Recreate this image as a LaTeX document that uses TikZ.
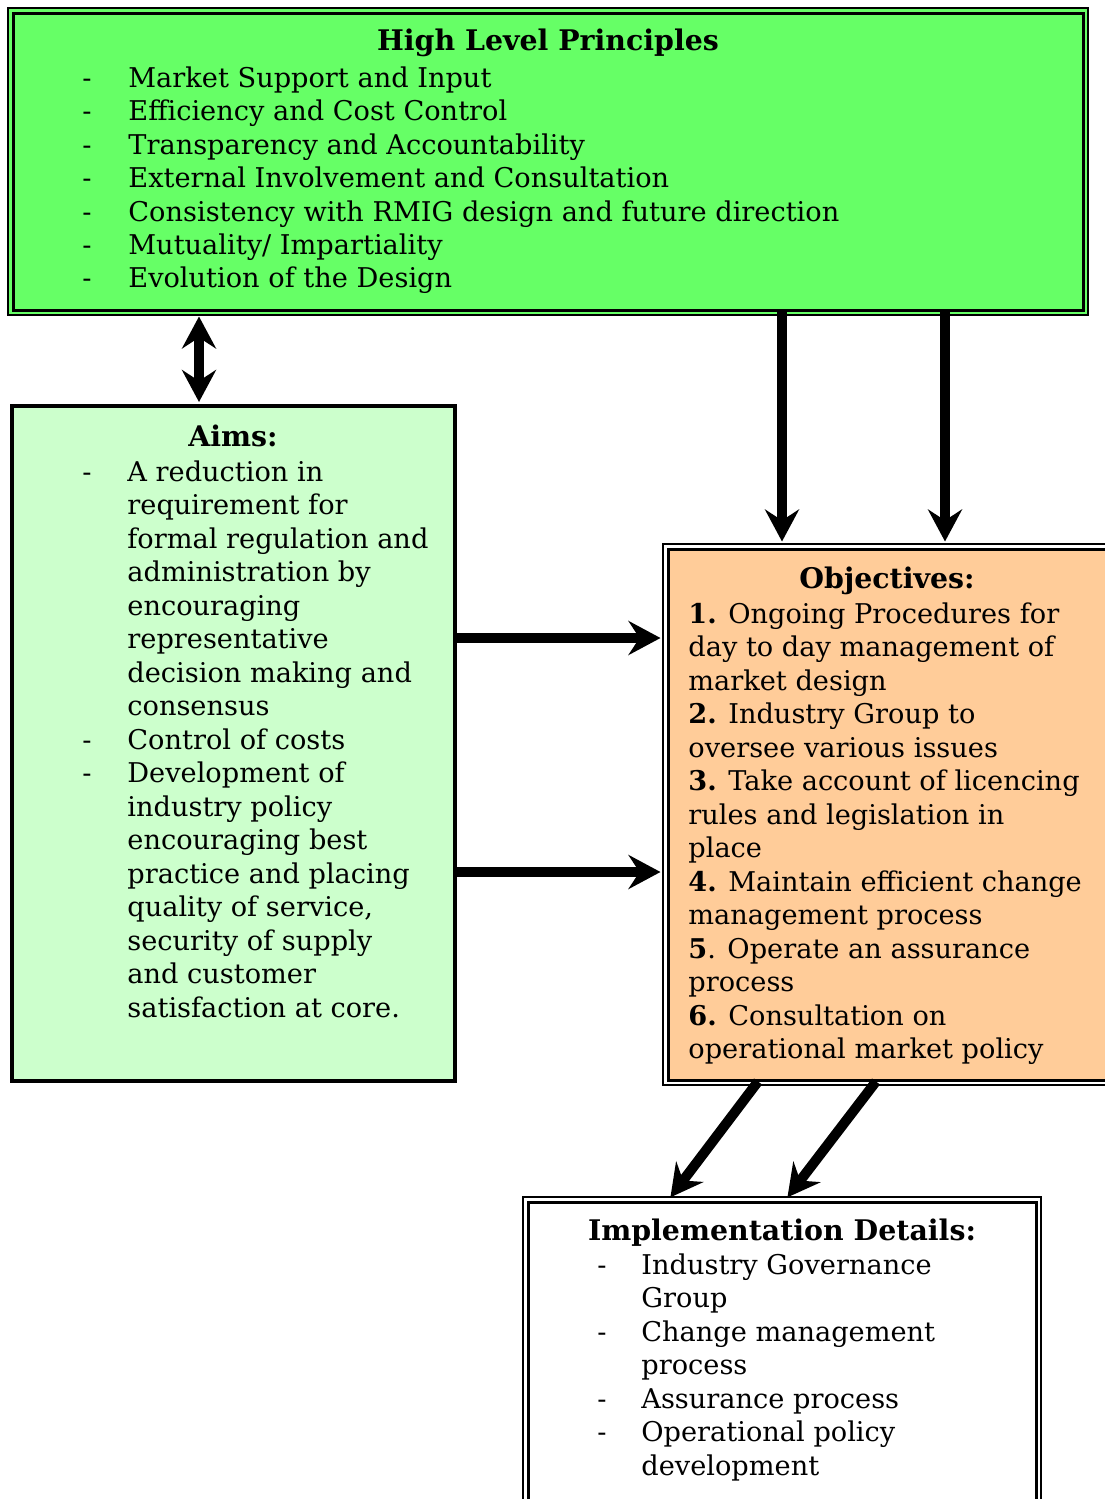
\documentclass[tikz,border=0pt]{standalone}
\usepackage{fontspec}
\setmainfont{DejaVu Serif}
\usetikzlibrary{arrows.meta}
\definecolor{prinGreen}{HTML}{66FF66}
\definecolor{aimsGreen}{HTML}{CCFFCC}
\definecolor{objOrange}{HTML}{FFCC99}
\newcommand{\boxfont}{\fontsize{13.6}{16.75}\selectfont}
\newcommand{\headfont}{\fontsize{14.2}{16.75}\selectfont\bfseries}
\tikzset{framed/.style={draw,line width=1.5pt,
    preaction={draw=black,line width=6pt},
    preaction={draw=#1,line width=4pt}},
  framed/.default=white}

\begin{document}
\begin{tikzpicture}[x=0.5pt,y=-0.5pt,font=\boxfont,
    >={Stealth[length=16pt,width=17pt,inset=5.5pt]}]
  \tikzstyle{panel}=[inner sep=0pt,anchor=center]
  \tikzstyle{title}=[font=\headfont,anchor=base,inner sep=0pt]
  \tikzstyle{items}=[anchor=base west,inner sep=0pt,align=left]
  \tikzstyle{fat}=[line width=5pt]

  \useasboundingbox (0,0) rectangle (1104,1499);

  % boxes
  \node[panel,framed=prinGreen,fill=prinGreen,minimum width=535pt,minimum height=148.5pt] (prin) at (548,161.5) {};
  \node[panel,draw,line width=2pt,fill=aimsGreen,minimum width=221.5pt,minimum height=337.5pt] (aims) at (233.5,743.5) {};
  \node[panel,framed,fill=objOrange,minimum width=223.5pt,minimum height=265.5pt] (obj) at (891.5,814.5) {};
  \node[panel,framed,fill=white,minimum width=254pt,minimum height=159pt] (impl) at (782,1361) {};

  % texts
  \node[title] (prinT) at (548,50) {High Level Principles};
  \node[items] (prinL) at (82,87) {\begin{tabular}[t]{@{}p{23pt}@{}l@{}}
    - & Market Support and Input\\
    - & Efficiency and Cost Control\\
    - & Transparency and Accountability\\
    - & External Involvement and Consultation\\
    - & Consistency with RMIG design and future direction\\
    - & Mutuality/ Impartiality\\
    - & Evolution of the Design
  \end{tabular}};

  \node[title] (aimsT) at (233,446) {Aims:};
  \node[items] (aimsL) at (82,481) {\begin{tabular}[t]{@{}p{22.5pt}@{}l@{}}
    - & A reduction in\\
      & requirement for\\
      & formal regulation and\\
      & administration by\\
      & encouraging\\
      & representative\\
      & decision making and\\
      & consensus\\
    - & Control of costs\\
    - & Development of\\
      & industry policy\\
      & encouraging best\\
      & practice and placing\\
      & quality of service,\\
      & security of supply\\
      & and customer\\
      & satisfaction at core.
  \end{tabular}};

  \node[title] (objT) at (887,588) {Objectives:};
  \node[items] (objL) at (688,623) {\begin{tabular}[t]{@{}l@{}}
    \textbf{1.} Ongoing Procedures for\\
    day to day management of\\
    market design\\
    \textbf{2.} Industry Group to\\
    oversee various issues\\
    \textbf{3.} Take account of licencing\\
    rules and legislation in\\
    place\\
    \textbf{4.} Maintain efficient change\\
    management process\\
    \textbf{5}. Operate an assurance\\
    process\\
    \textbf{6.} Consultation on\\
    operational market policy
  \end{tabular}};

  \node[title] (implT) at (782,1240) {Implementation Details:};
  \node[items] (implL) at (597,1274) {\begin{tabular}[t]{@{}p{22pt}@{}l@{}}
    - & Industry Governance\\
      & Group\\
    - & Change management\\
      & process\\
    - & Assurance process\\
    - & Operational policy\\
      & development
  \end{tabular}};

  % connectors
  \coordinate (c1) at (782,0);
  \coordinate (c2) at (945,0);
  \coordinate (c3) at (199,0);
  \coordinate (r1) at (0,638);
  \coordinate (r2) at (0,872);
  \coordinate (d1) at (758,0);
  \coordinate (d2) at (668,0);
  \coordinate (d3) at (876,0);
  \coordinate (d4) at (785,0);

  \draw[fat,<->,shorten <=2.5pt,shorten >=1pt] (prin.south -| c3) -- (aims.north -| c3);
  \draw[fat,->,shorten >=3pt] (prin.south -| c1) -- (obj.north -| c1);
  \draw[fat,->,shorten >=3pt] (prin.south -| c2) -- (obj.north -| c2);
  \draw[fat,->,shorten >=3pt] (aims.east |- r1) -- (obj.west |- r1);
  \draw[fat,->,shorten >=3pt] (aims.east |- r2) -- (obj.west |- r2);
  \draw[fat,->,shorten >=2pt] (obj.south -| d1) -- (impl.north -| d2);
  \draw[fat,->,shorten >=2pt] (obj.south -| d3) -- (impl.north -| d4);
\end{tikzpicture}
\end{document}
